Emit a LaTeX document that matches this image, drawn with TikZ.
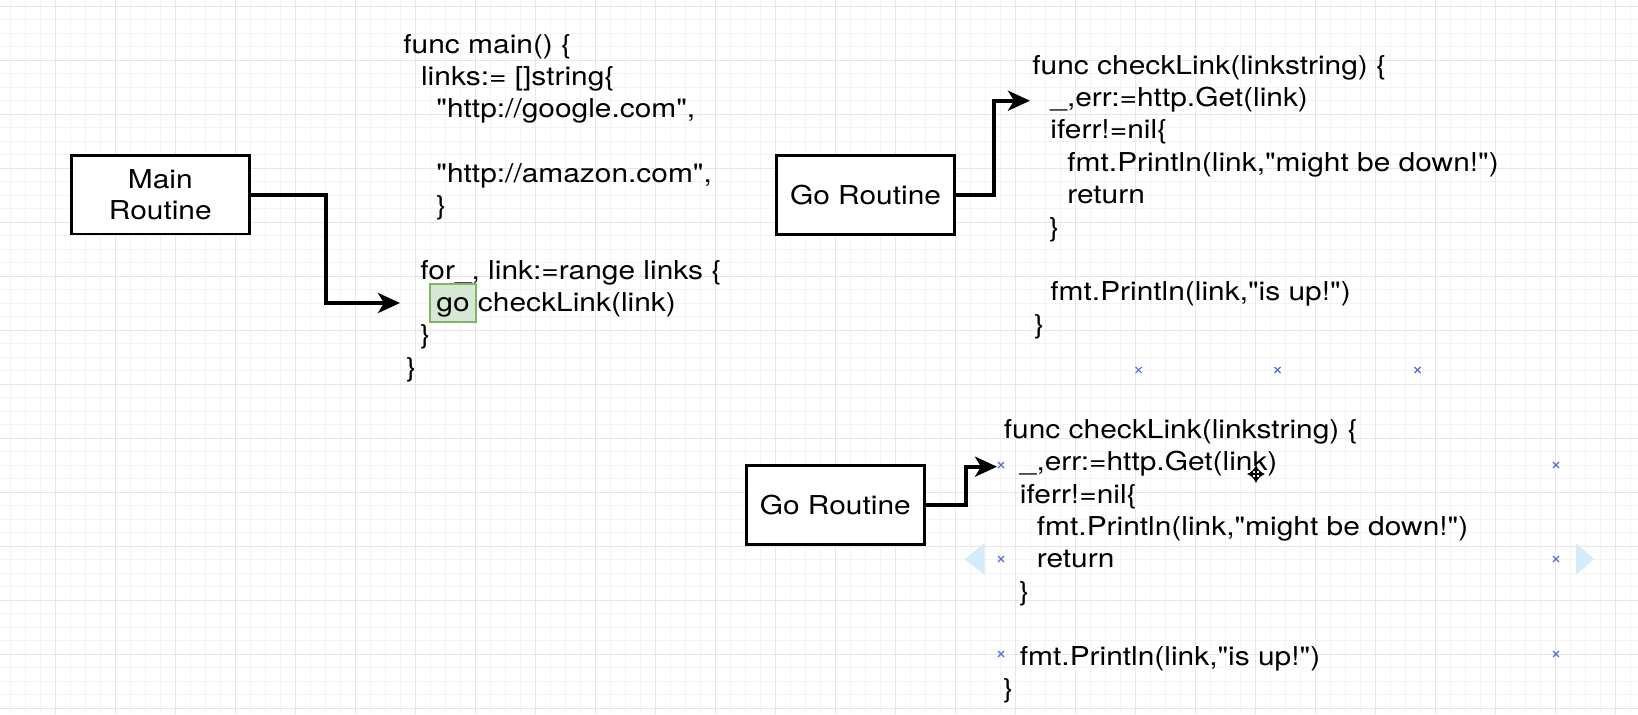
\documentclass[tikz,border=0pt]{standalone}
\usepackage{fontspec}
\setmainfont{TeX Gyre Heros}[FakeStretch=1.15, Ligatures=TeXOff]
\usetikzlibrary{arrows.meta}
\definecolor{gridmajor}{HTML}{E6E6E6}
\definecolor{gridminor}{HTML}{F3F3F3}
\definecolor{gofill}{HTML}{D5E8D4}
\definecolor{godraw}{HTML}{82B366}
\definecolor{handle}{HTML}{5468E0}
\definecolor{arrowhint}{HTML}{D4ECFA}
\tikzset{
  routine/.style={draw=black, line width=1.35pt, fill=white, minimum width=89pt,
    minimum height=39.3pt, inner sep=0pt, align=center,
    font=\fontsize{13}{15.85}\selectfont},
  code/.style={anchor=base west, inner sep=0pt, font=\fontsize{13}{16}\selectfont},
  conn/.style={line width=2pt, -{Stealth[length=11pt,width=10pt,inset=3pt]}},
  gohl/.style={draw=godraw, fill=gofill, line width=1pt, minimum width=22.85pt,
    minimum height=19.3pt, inner sep=0pt},
  handlemark/.style={draw=handle, line width=0.6pt},
  hint/.style={fill=arrowhint, draw=none},
  minorline/.style={draw=gridminor, line width=0.5pt},
  majorline/.style={draw=gridmajor, line width=0.5pt},
}
\begin{document}
\begin{tikzpicture}[x=0.5pt,y=-0.5pt]
\useasboundingbox (0,0) rectangle (1638,714);
\fill[white] (0,0) rectangle (1638,714);
% grid
\foreach \i in {0,...,108} \draw[minorline] (10.7+15*\i,0) -- (10.7+15*\i,714);
\foreach \j in {0,...,52} \draw[minorline] (0,6+13.5*\j) -- (1638,6+13.5*\j);
\foreach \i in {0,...,26} \draw[majorline] (55.7+60*\i,0) -- (55.7+60*\i,714);
\foreach \j in {0,...,13} \draw[majorline] (0,6+54*\j) -- (1638,6+54*\j);

% selection hints
\fill[hint] (964.6,559) -- (984.6,543) -- (984.6,575) -- cycle;
\fill[hint] (1594,559) -- (1576,543) -- (1576,575) -- cycle;

% main code
\node[code] (m1) at (403,53) {func main() \{};
\node[code] (m2) at (420.7,85.3) {links:= []string\{};
\node[code] (m3) at (436,117.6) {"http://google.com",};
\node[code] (m4) at (436,182.2) {"http://amazon.com",};
\node[code] (m5) at (436,214.5) {\}};
\node[code] (m6) at (420,279) {for\_, link:=range links \{};
\node[gohl] (gohl) at (452.85,303) {};
\node[code] (m7) at (436,311.4) {go checkLink(link)};
\node[code] (m8) at (420,343.7) {\}};
\node[code] (m9) at (406,376) {\}};

% top checkLink
\node[code] (t1) at (1032,74) {func checkLink(linkstring) \{};
\node[code] (t2) at (1050,106.4) {\_,err:=http.Get(link)};
\node[code] (t3) at (1050,138.8) {iferr!=nil\{};
\node[code] (t4) at (1067,171.2) {fmt.Println(link,"might be down!")};
\node[code] (t5) at (1067,203.6) {return};
\node[code] (t6) at (1049,236) {\}};
\node[code] (t7) at (1050,300.8) {fmt.Println(link,"is up!")};
\node[code] (t8) at (1034,333.2) {\}};

% bottom checkLink
\node[code] (b1) at (1003.5,438.3) {func checkLink(linkstring) \{};
\node[code] (b2) at (1019.5,470.7) {\_,err:=http.Get(link)};
\node[code] (b3) at (1019.5,503.1) {iferr!=nil\{};
\node[code] (b4) at (1036.5,535.5) {fmt.Println(link,"might be down!")};
\node[code] (b5) at (1036.5,567.9) {return};
\node[code] (b6) at (1019,600.3) {\}};
\node[code] (b7) at (1019.5,665.1) {fmt.Println(link,"is up!")};
\node[code] (b8) at (1003,697.5) {\}};

% routine boxes
\node[routine] (main) at (160.35,194.65) {Main\\Routine};
\node[routine] (go1) at (865.5,195) {Go Routine};
\node[routine] (go2) at (835.25,504.9) {Go Routine};

% connectors
\coordinate (mtip) at (400,303);
\coordinate (ttip) at (1030,100.7);
\coordinate (btip) at (997,466.7);
\draw[conn] (main.east) -| (326,303) -- (mtip);
\draw[conn] (go1.east) -| (994,100.7) -- (ttip);
\draw[conn] (go2.east) -| (965.7,466.7) -- (btip);

% selection handles
\foreach \hx/\hy in {1138.6/370, 1277.5/370, 1417.5/370, 1001/465, 1556/465,
  1001/559, 1556/559, 1001/654, 1556/654}
  \draw[handlemark] (\hx-3,\hy-3) -- (\hx+3,\hy+3) (\hx-3,\hy+3) -- (\hx+3,\hy-3);

% move cursor
\begin{scope}[shift={(1256,474)}]
  \draw[white, line width=2.4pt] (-8,0) -- (8,0) (0,-8) -- (0,8);
  \draw[black, line width=0.9pt, {Latex[length=3pt,width=4pt]}-{Latex[length=3pt,width=4pt]}] (-9,0) -- (9,0);
  \draw[black, line width=0.9pt, {Latex[length=3pt,width=4pt]}-{Latex[length=3pt,width=4pt]}] (0,-9) -- (0,9);
\end{scope}
\end{tikzpicture}
\end{document}
